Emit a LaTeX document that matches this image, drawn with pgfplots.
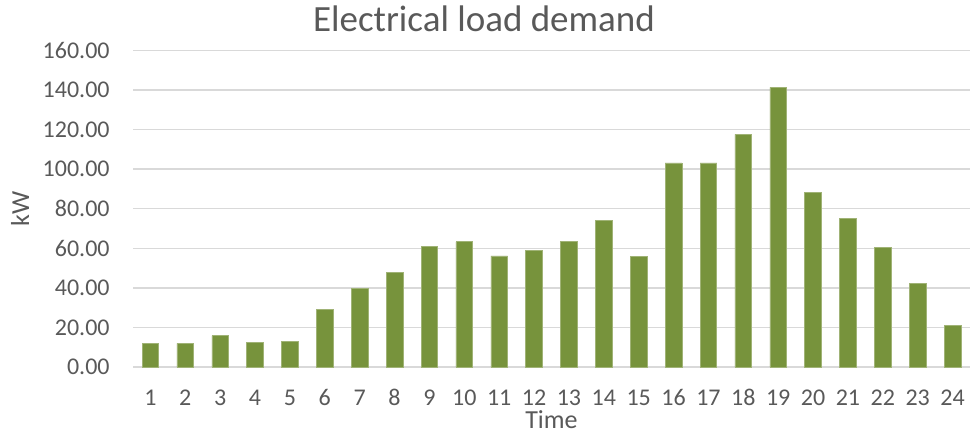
\documentclass[border=0pt]{standalone}
\usepackage{pgfplots}
\pgfplotsset{compat=1.18}
\usepackage{fontspec}
\setmainfont{Carlito}

\definecolor{barolive}{HTML}{77933C}
\definecolor{labelgray}{HTML}{595959}
\definecolor{gridgray}{HTML}{D9D9D9}

\begin{document}
\begin{tikzpicture}
\useasboundingbox (0,0) rectangle (485pt,218pt);
\begin{axis}[
  at={(66.5pt,34.5pt)}, anchor=south west,
  scale only axis,
  width=418.5pt, height=158.3pt,
  xmin=0.5, xmax=24.5,
  ymin=0, ymax=160,
  ytick={0,20,...,160},
  xtick={1,...,24},
  major tick length=0pt,
  axis line style={draw=none},
  ymajorgrids,
  grid style={gridgray, line width=0.75pt},
  /pgf/number format/assume math mode=true,
  yticklabel={\pgfmathprintnumber[fixed,fixed zerofill,precision=2]{\tick}},
  ticklabel style={font=\fontsize{12}{14}\selectfont, text=labelgray},
  yticklabel style={anchor=east, inner sep=0pt, xshift=-11.5pt},
  xticklabel style={anchor=base, inner sep=0pt, yshift=-19pt},
  xlabel={Time},
  ylabel={kW},
  label style={font=\fontsize{13}{15}\selectfont, text=labelgray},
  xlabel style={at={(axis description cs:0.5,-0.193)}, anchor=base, inner sep=0pt},
  ylabel style={at={(axis description cs:-0.135,0.5)}, anchor=center, rotate=0},
  clip=false,
]
\addplot[ybar, bar width=8.35pt, fill=barolive, draw=barolive!70!white, line width=0.3pt]
  coordinates {
    (1,12.0) (2,12.0) (3,15.8) (4,12.3) (5,13.0) (6,29.0)
    (7,39.9) (8,47.8) (9,61.1) (10,63.3) (11,56.1) (12,59.1)
    (13,63.3) (14,73.9) (15,55.7) (16,103.1) (17,103.2) (18,117.6)
    (19,141.3) (20,88.4) (21,74.9) (22,60.3) (23,42.1) (24,20.9)
  };
\end{axis}
\node[anchor=base, text=labelgray, font=\fontsize{18.5}{22}\selectfont, inner sep=0pt]
  at (242pt,202.2pt) {Electrical load demand};
\end{tikzpicture}
\end{document}
